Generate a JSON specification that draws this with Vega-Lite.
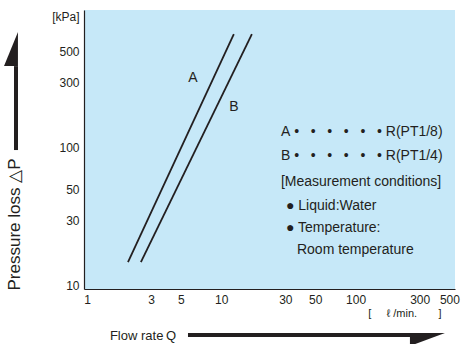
{
  "$schema": "https://vega.github.io/schema/vega-lite/v6.json",
  "width": 371,
  "height": 279,
  "autosize": {"type": "none"},
  "padding": {"left": 84, "top": 10, "right": 10, "bottom": 55},
  "config": {
    "view": {"stroke": null, "fill": "#c6e8f8"},
    "font": "Liberation Sans",
    "axis": {"ticks": false, "grid": false, "domainColor": "#231f20", "domainWidth": 1.2, "labelColor": "#231f20", "labelFontSize": 12, "labelFont": "Liberation Sans", "titleFont": "Liberation Sans", "titleFontWeight": "normal", "titleColor": "#231f20", "labelPadding": 5}
  },
  "datasets": {
    "curves": [
      {"series": "A", "q": 2.02, "p": 14.9},
      {"series": "A", "q": 12.4, "p": 669},
      {"series": "B", "q": 2.52, "p": 14.9},
      {"series": "B", "q": 16.9, "p": 669}
    ],
    "curveLabels": [
      {"label": "A", "q": 6.16, "p": 321},
      {"label": "B", "q": 12.4, "p": 198}
    ],
    "notes": [
      {"text": "A\u00a0•\u00a0\u00a0\u00a0•\u00a0\u00a0\u00a0•\u00a0\u00a0\u00a0•\u00a0\u00a0\u00a0•\u00a0\u00a0\u00a0•\u00a0R(PT1/8)", "q": 27.8, "p": 130.5},
      {"text": "B\u00a0•\u00a0\u00a0\u00a0•\u00a0\u00a0\u00a0•\u00a0\u00a0\u00a0•\u00a0\u00a0\u00a0•\u00a0\u00a0\u00a0•\u00a0R(PT1/4)", "q": 27.8, "p": 87.4},
      {"text": "[Measurement conditions]", "q": 27.8, "p": 56.6},
      {"text": "● Liquid:Water", "q": 30.3, "p": 37.9},
      {"text": "● Temperature:", "q": 30.3, "p": 26.3},
      {"text": "Room temperature", "q": 36.6, "p": 18.2}
    ],
    "unit": [{"text": "[\u00a0\u00a0\u00a0\u00a0\u00a0ℓ\u00a0/min.\u00a0\u00a0\u00a0\u00a0\u00a0\u00a0\u00a0]", "q": 233, "p": 6.26}],
    "shafts": [
      {"name": "x", "q": 5.65, "q2": 263, "p": 4.41, "p2": 4.41},
      {"name": "y", "q": 0.296, "q2": 0.296, "p": 96.6, "p2": 392}
    ],
    "headX": [{"q": 343, "p": 4.09}],
    "headY": [{"q": 0.2717, "p": 521}]
  },
  "layer": [
    {
      "data": {"name": "curves"},
      "mark": {"type": "line", "color": "#231f20", "strokeWidth": 1.8},
      "encoding": {
        "x": {"field": "q", "type": "quantitative", "scale": {"type": "log", "domain": [0.95, 550], "nice": false},
          "axis": {"values": [1, 3, 5, 10, 30, 50, 100, 300, 500], "format": "d", "title": "Flow rate\u2009Q", "titleFontSize": 13, "titleX": 58.5, "titleY": 46, "titleAlign": "center", "titleBaseline": "middle"}},
        "y": {"field": "p", "type": "quantitative", "scale": {"type": "log", "domain": [9.5, 1000], "nice": false},
          "axis": {"values": [10, 30, 50, 100, 300, 500, 890], "labelExpr": "datum.value > 800 ? '[kPa]' : format(datum.value, 'd')", "title": "Pressure loss △P", "titleFontSize": 17, "titleAngle": 270, "titleX": -70, "titleY": 214, "titleAlign": "center", "titleBaseline": "middle"}},
        "detail": {"field": "series"}
      }
    },
    {
      "data": {"name": "curveLabels"},
      "mark": {"type": "text", "fontSize": 14, "color": "#231f20"},
      "encoding": {
        "x": {"field": "q", "type": "quantitative"},
        "y": {"field": "p", "type": "quantitative"},
        "text": {"field": "label"}
      }
    },
    {
      "data": {"name": "notes"},
      "mark": {"type": "text", "fontSize": 14, "align": "left", "baseline": "middle", "color": "#231f20"},
      "encoding": {
        "x": {"field": "q", "type": "quantitative"},
        "y": {"field": "p", "type": "quantitative"},
        "text": {"field": "text"}
      }
    },
    {
      "data": {"name": "unit"},
      "mark": {"type": "text", "fontSize": 11, "align": "center", "baseline": "middle", "color": "#231f20"},
      "encoding": {
        "x": {"field": "q", "type": "quantitative"},
        "y": {"field": "p", "type": "quantitative"},
        "text": {"field": "text"}
      }
    },
    {
      "data": {"name": "shafts"},
      "mark": {"type": "rule", "color": "#231f20", "strokeWidth": 4, "strokeCap": "butt"},
      "encoding": {
        "x": {"field": "q", "type": "quantitative"},
        "x2": {"field": "q2"},
        "y": {"field": "p", "type": "quantitative"},
        "y2": {"field": "p2"}
      }
    },
    {
      "data": {"name": "headX"},
      "mark": {"type": "point", "filled": true, "color": "#231f20", "opacity": 1, "size": 1225, "shape": "M 1 -0.37 L -1 -0.37 L -1 0.37 Z"},
      "encoding": {
        "x": {"field": "q", "type": "quantitative"},
        "y": {"field": "p", "type": "quantitative"}
      }
    },
    {
      "data": {"name": "headY"},
      "mark": {"type": "point", "filled": true, "color": "#231f20", "opacity": 1, "size": 1156, "shape": "M 0.41 -1 L 0.41 1 L -0.41 1 Z"},
      "encoding": {
        "x": {"field": "q", "type": "quantitative"},
        "y": {"field": "p", "type": "quantitative"}
      }
    }
  ]
}
